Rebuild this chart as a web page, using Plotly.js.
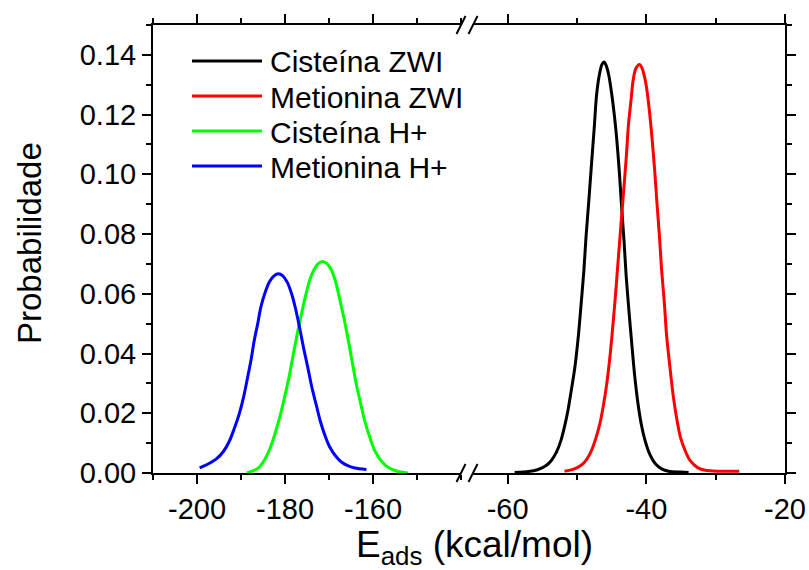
<!DOCTYPE html>
<html><head><meta charset="utf-8">
<script src="https://cdn.plot.ly/plotly-3.0.1.min.js"></script>
<style>body{margin:0;background:#fff}#chart{width:809px;height:570px}</style>
</head><body><div id="chart"></div>
<script>
// ---- data ----
const seriesNames = ['Cisteína ZWI', 'Metionina ZWI', 'Cisteína H+', 'Metionina H+'];
const seriesColors = ['#000000', '#ff0000', '#00ff00', '#0000ff'];

const cisZwiX = [-59.0, -57.0, -55.7, -54.5, -53.7, -53.0, -52.3, -51.8, -51.3, -50.8, -50.3, -49.8, -49.4, -49.0, -48.7, -48.3, -47.9, -47.5, -47.2, -46.8, -46.4, -46.1, -45.8, -45.4, -45.0, -44.6, -44.3, -43.9, -43.6, -43.2, -42.9, -42.5, -42.1, -41.7, -41.2, -40.7, -40.2, -39.5, -38.7, -37.8, -36.8, -35.0, -33.9];
const cisZwiY = [0.0002, 0.0005, 0.0011, 0.0024, 0.0042, 0.0068, 0.011, 0.0155, 0.021, 0.028, 0.0355, 0.046, 0.0567, 0.068, 0.079, 0.091, 0.1037, 0.116, 0.126, 0.1330, 0.1368, 0.1376, 0.1365, 0.1330, 0.127, 0.1195, 0.1126, 0.101, 0.0903, 0.077, 0.0657, 0.054, 0.0433, 0.033, 0.0232, 0.0160, 0.011, 0.0062, 0.0031, 0.0014, 0.0006, 0.0003, 0.0002];

const metZwiX = [-51.8, -50.5, -49.4, -48.6, -47.9, -47.3, -46.7, -46.2, -45.7, -45.2, -44.8, -44.4, -44.1, -43.7, -43.3, -42.9, -42.6, -42.2, -41.9, -41.5, -41.0, -40.6, -40.2, -39.9, -39.5, -39.2, -38.8, -38.5, -38.1, -37.8, -37.4, -37.1, -36.6, -36.1, -35.6, -35.1, -34.4, -33.7, -32.6, -31.5, -29.5, -26.6];
const metZwiY = [0.0006, 0.0013, 0.0026, 0.0046, 0.0076, 0.0115, 0.0165, 0.0225, 0.030, 0.040, 0.050, 0.061, 0.0701, 0.082, 0.0936, 0.1055, 0.116, 0.125, 0.1316, 0.1355, 0.1368, 0.1355, 0.1320, 0.128, 0.120, 0.1126, 0.1015, 0.0914, 0.079, 0.068, 0.057, 0.0467, 0.0355, 0.0255, 0.0180, 0.0121, 0.0075, 0.0042, 0.0018, 0.0009, 0.0006, 0.0006];

const cisHX = [-188.7, -187.3, -185.9, -184.6, -183.3, -182.1, -181.0, -180.0, -179.1, -178.2, -177.3, -176.3, -175.4, -174.4, -173.5, -172.5, -171.5, -170.4, -169.4, -168.4, -167.5, -166.5, -165.6, -164.7, -163.8, -162.8, -161.9, -160.7, -159.6, -158.1, -156.6, -154.5, -152.1];
const cisHY = [0.0, 0.0007, 0.0019, 0.0045, 0.0086, 0.014, 0.0198, 0.026, 0.032, 0.039, 0.046, 0.053, 0.0589, 0.0645, 0.0678, 0.0700, 0.0708, 0.0700, 0.0678, 0.0635, 0.0578, 0.0512, 0.0443, 0.037, 0.0298, 0.0232, 0.0175, 0.0118, 0.0075, 0.0040, 0.0019, 0.0006, 0.0];

const metHX = [-199.4, -197.5, -195.6, -194.0, -192.6, -191.5, -190.4, -189.4, -188.5, -187.7, -187.0, -186.2, -185.5, -184.5, -183.6, -182.5, -181.5, -180.5, -179.5, -178.5, -177.6, -176.7, -175.8, -174.8, -173.9, -172.9, -172.0, -170.9, -169.8, -168.5, -167.1, -165.6, -164.1, -161.5];
const metHY = [0.0017, 0.0030, 0.0047, 0.0072, 0.0108, 0.0150, 0.0198, 0.0255, 0.032, 0.038, 0.0443, 0.050, 0.0555, 0.0605, 0.0639, 0.0660, 0.0667, 0.0660, 0.0639, 0.060, 0.055, 0.0488, 0.042, 0.0352, 0.0287, 0.0228, 0.0175, 0.0125, 0.0086, 0.0057, 0.0036, 0.0024, 0.0017, 0.0012];

const yTickVals = [0, 0.02, 0.04, 0.06, 0.08, 0.10, 0.12, 0.14];
const leftTickVals = [-200, -180, -160];
const rightTickVals = [-60, -40, -20];

// ---- layout geometry ----
const W = 809, H = 570;
const M = {l: 153, r: 24, t: 25, b: 97};
const PW = W - M.l - M.r, PH = H - M.t - M.b;
const px2x = p => (p - M.l) / PW;
const px2y = p => (H - M.b - p) / PH;
const leftEnd = px2x(461), rightStart = px2x(473);

const FONT = 'Liberation Sans, Arial, sans-serif';
const tickFont = {family: FONT, size: 29, color: '#000'};

const commonX = {
  showline: true, linewidth: 2, linecolor: '#000', mirror: 'ticks',
  ticks: 'outside', ticklen: 9, tickwidth: 2, tickcolor: '#000',
  showgrid: false, zeroline: false, tickfont: tickFont,
  tickmode: 'array',
  minor: {dtick: 10, tick0: 0, ticks: 'outside', ticklen: 5, tickwidth: 2, tickcolor: '#000', showgrid: false}
};

const traceDefs = [
  {x: cisZwiX, y: cisZwiY, side: 2},
  {x: metZwiX, y: metZwiY, side: 2},
  {x: cisHX, y: cisHY, side: 1},
  {x: metHX, y: metHY, side: 1}
];
const data = traceDefs.map((d, i) => ({
  type: 'scatter', mode: 'lines', x: d.x, y: d.y, name: seriesNames[i],
  xaxis: d.side === 1 ? 'x' : 'x2', yaxis: d.side === 1 ? 'y' : 'y2',
  line: {color: seriesColors[i], width: 3, shape: 'spline', smoothing: 0.8},
  showlegend: false, hoverinfo: 'skip'
}));

// custom legend (long line samples as in the original)
const legendRowsPx = [61, 96, 131, 166];
const shapes = [];
const annotations = [];
seriesNames.forEach((n, i) => {
  shapes.push({type: 'line', xref: 'paper', yref: 'paper',
    x0: px2x(192), x1: px2x(262), y0: px2y(legendRowsPx[i]), y1: px2y(legendRowsPx[i]),
    line: {color: seriesColors[i], width: 3}});
  annotations.push({xref: 'paper', yref: 'paper', x: px2x(268), y: px2y(legendRowsPx[i] + 1),
    xanchor: 'left', yanchor: 'middle', showarrow: false, text: n,
    font: {family: FONT, size: 30, color: '#000'}});
});

// axis break marks "//"
[leftEnd, rightStart].forEach(xa => {
  [0, 1].forEach(ya => {
    shapes.push({type: 'line', xref: 'paper', yref: 'paper', layer: 'above',
      xsizemode: 'pixel', ysizemode: 'pixel', xanchor: xa, yanchor: ya,
      x0: -4.5, x1: 4.5, y0: -9, y1: 9, line: {color: '#000', width: 2}});
  });
});

// axis titles
annotations.push({xref: 'paper', yref: 'paper', x: px2x(474), y: px2y(547),
  xanchor: 'center', yanchor: 'middle', showarrow: false,
  text: 'E<sub>ads</sub> (kcal/mol)', font: {family: FONT, size: 37, color: '#000'}});
annotations.push({xref: 'paper', yref: 'paper', x: px2x(29), y: px2y(243),
  xanchor: 'center', yanchor: 'middle', showarrow: false, textangle: -90,
  text: 'Probabilidade', font: {family: FONT, size: 33, color: '#000'}});

const layout = {
  width: W, height: H, margin: M,
  paper_bgcolor: '#fff', plot_bgcolor: '#fff',
  showlegend: false,
  xaxis: Object.assign({}, commonX, {domain: [0, leftEnd], range: [-210, -140],
    tickvals: leftTickVals, ticktext: leftTickVals.map(String), anchor: 'y'}),
  xaxis2: Object.assign({}, commonX, {domain: [rightStart, 1], range: [-65, -20],
    tickvals: rightTickVals, ticktext: rightTickVals.map(String), anchor: 'y'}),
  yaxis: {range: [0, 0.15], domain: [0, 1], anchor: 'x', showline: true, linewidth: 2, linecolor: '#000',
    ticks: 'outside', ticklen: 9, tickwidth: 2, tickcolor: '#000', mirror: false,
    tickmode: 'array', tickvals: yTickVals, ticktext: yTickVals.map(v => v.toFixed(2)),
    tickfont: tickFont, showgrid: false, zeroline: false,
    minor: {dtick: 0.01, tick0: 0, ticks: 'outside', ticklen: 5, tickwidth: 2, tickcolor: '#000', showgrid: false}},
  yaxis2: {range: [0, 0.15], domain: [0, 1], anchor: 'x2', overlaying: 'y', side: 'right',
    showline: true, linewidth: 2, linecolor: '#000',
    ticks: 'outside', ticklen: 9, tickwidth: 2, tickcolor: '#000',
    tickmode: 'array', tickvals: yTickVals, showticklabels: false,
    showgrid: false, zeroline: false,
    minor: {dtick: 0.01, tick0: 0, ticks: 'outside', ticklen: 5, tickwidth: 2, tickcolor: '#000', showgrid: false}},
  shapes: shapes,
  annotations: annotations
};

Plotly.newPlot('chart', data, layout, {staticPlot: true, displayModeBar: false});
</script>
</body></html>
